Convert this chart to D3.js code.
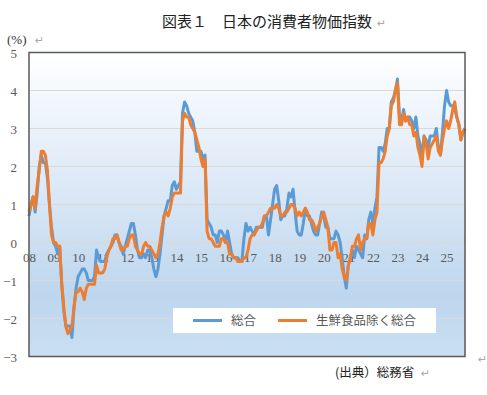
<!DOCTYPE html>
<html>
<head>
<meta charset="utf-8">
<script src="https://cdn.jsdelivr.net/npm/d3@7"></script>
<style>
  body { margin: 0; background: #fff; }
  svg { display: block; }
  .tick text { font-family: "Liberation Serif", "DejaVu Serif", serif; font-size: 13px; fill: #595959; }
</style>
</head>
<body>
<svg id="chart" width="487" height="395"></svg>
<script>
// x axis labels (one per year, Jan)
const yearLabels = ['08','09','10','11','12','13','14','15','16','17','18','19','20','21','22','23','24','25'];
const yTicks = [-3, -2, -1, 0, 1, 2, 3, 4, 5];

// 総合 (all items), y/y %, monthly from 2008-01
const headline = [
  0.7, 1.0, 1.2, 0.8, 1.3, 2.0, 2.3, 2.1, 2.1, 1.7, 1.0, 0.4,
  0.0, -0.1, -0.3, -0.1, -1.1, -1.8, -2.2, -2.2, -2.2, -2.5, -1.7, -1.2,
  -0.9, -0.8, -0.7, -0.7, -0.8, -1.0, -1.0, -1.0, -0.9, -0.2, -0.4, -0.5,
  -0.5, -0.5, -0.3, -0.2, -0.1, 0.0, 0.2, 0.2, 0.0, -0.1, -0.3, -0.1,
  0.1, 0.3, 0.5, 0.5, 0.2, -0.2, -0.4, -0.4, -0.3, -0.4, -0.2, -0.2,
  -0.4, -0.7, -0.9, -0.7, -0.3, 0.2, 0.7, 0.9, 1.1, 1.1, 1.5, 1.6,
  1.4, 1.5, 1.6, 3.4, 3.7, 3.6, 3.4, 3.3, 3.2, 2.9, 2.4, 2.4,
  2.4, 2.2, 2.3, 0.6, 0.5, 0.4, 0.2, 0.2, 0.0, 0.3, 0.3, 0.2,
  0.0, 0.3, 0.0, -0.3, -0.4, -0.4, -0.4, -0.5, -0.5, 0.1, 0.5, 0.3,
  0.4, 0.3, 0.2, 0.4, 0.4, 0.4, 0.4, 0.7, 0.7, 0.2, 0.6, 1.0,
  1.4, 1.5, 1.1, 0.6, 0.7, 0.7, 0.9, 1.3, 1.2, 1.4, 0.8, 0.3,
  0.2, 0.2, 0.5, 0.9, 0.7, 0.7, 0.5, 0.3, 0.2, 0.2, 0.5, 0.8,
  0.7, 0.4, 0.4, 0.1, 0.1, 0.1, 0.3, 0.2, 0.0, -0.4, -0.9, -1.2,
  -0.6, -0.4, -0.2, -0.4, -0.1, -0.2, -0.3, -0.4, 0.2, 0.1, 0.6, 0.8,
  0.5, 0.9, 1.2, 2.5, 2.5, 2.4, 2.6, 3.0, 3.0, 3.7, 3.8, 4.0,
  4.3, 3.3, 3.2, 3.5, 3.2, 3.3, 3.3, 3.2, 3.0, 3.3, 2.8, 2.6,
  2.2, 2.8, 2.7, 2.5, 2.8, 2.8, 2.8, 3.0, 2.5, 2.3, 2.9, 3.6,
  4.0, 3.7, 3.6, 3.6, 3.5, 3.3, 3.1, 2.7, 2.9, 3.0
];

// 生鮮食品除く総合 (core), y/y %, monthly from 2008-01
const core = [
  0.8, 1.0, 1.2, 0.9, 1.5, 1.9, 2.4, 2.4, 2.3, 1.9, 1.0, 0.2,
  0.0, 0.0, -0.1, -0.1, -1.1, -1.7, -2.2, -2.4, -2.3, -2.2, -1.7, -1.3,
  -1.3, -1.2, -1.3, -1.5, -1.2, -1.1, -1.1, -1.1, -1.1, -0.6, -0.8, -0.8,
  -0.8, -0.7, -0.4, -0.2, -0.1, 0.1, 0.1, 0.2, 0.0, -0.2, -0.2, -0.1,
  -0.1, 0.1, 0.2, 0.2, -0.1, -0.2, -0.3, -0.3, -0.1, 0.0, -0.1, -0.1,
  -0.2, -0.3, -0.4, -0.3, 0.0, 0.4, 0.7, 0.8, 0.7, 0.9, 1.2, 1.3,
  1.3, 1.3, 1.3, 3.2, 3.4, 3.3, 3.3, 3.1, 3.0, 2.9, 2.7, 2.5,
  2.2, 2.0, 2.2, 0.3, 0.1, 0.1, 0.0, -0.1, -0.1, -0.1, 0.1, 0.1,
  0.0, 0.0, -0.3, -0.3, -0.4, -0.4, -0.5, -0.5, -0.5, -0.4, -0.4, -0.2,
  0.1, 0.2, 0.2, 0.3, 0.4, 0.4, 0.5, 0.7, 0.7, 0.8, 0.9, 0.9,
  0.9, 1.0, 0.9, 0.7, 0.7, 0.8, 0.8, 0.9, 1.0, 1.0, 0.9, 0.7,
  0.8, 0.7, 0.8, 0.9, 0.8, 0.6, 0.6, 0.5, 0.3, 0.4, 0.5, 0.7,
  0.8, 0.6, 0.4, -0.2, -0.2, 0.0, 0.0, -0.4, -0.3, -0.7, -0.9, -1.0,
  -0.6, -0.4, -0.1, -0.1, 0.1, 0.2, -0.2, 0.0, 0.1, 0.1, 0.5, 0.5,
  0.2, 0.6, 0.8, 2.1, 2.1, 2.2, 2.4, 2.8, 3.0, 3.6, 3.7, 4.0,
  4.2, 3.1, 3.1, 3.4, 3.2, 3.3, 3.1, 3.1, 2.8, 2.9, 2.5, 2.3,
  2.0, 2.8, 2.6, 2.2, 2.5, 2.6, 2.7, 2.8, 2.4, 2.3, 2.7, 3.0,
  3.2, 3.0, 3.2, 3.5, 3.7, 3.3, 3.1, 2.7, 2.9, 3.0
];

const series = [
  { name: '総合', values: headline, color: '#5b9bd5' },
  { name: '生鮮食品除く総合', values: core, color: '#ed7d31' }
];

const svg = d3.select('#chart');
const plotLeft = 29, plotRight = 465, plotTop = 52.5, plotBottom = 356.5;

const x = d3.scaleLinear().domain([0, headline.length - 1]).range([plotLeft, plotRight]);
const y = d3.scaleLinear().domain([-3, 5]).range([plotBottom, plotTop]);

// background gradient
const grad = svg.append('defs').append('linearGradient')
  .attr('id', 'bg').attr('x1', 0).attr('y1', 0).attr('x2', 0).attr('y2', 1);
grad.append('stop').attr('offset', '0%').attr('stop-color', '#ffffff');
grad.append('stop').attr('offset', '45%').attr('stop-color', '#dbe8f6');
grad.append('stop').attr('offset', '80%').attr('stop-color', '#bdd6ee');
grad.append('stop').attr('offset', '100%').attr('stop-color', '#cadff2');

svg.append('rect')
  .attr('x', plotLeft).attr('y', plotTop)
  .attr('width', plotRight - plotLeft).attr('height', plotBottom - plotTop)
  .attr('fill', 'url(#bg)');

// horizontal grid
svg.append('g')
  .selectAll('line')
  .data(yTicks.filter(d => d > -3 && d < 5))
  .enter().append('line')
  .attr('x1', plotLeft).attr('x2', plotRight)
  .attr('y1', d => y(d)).attr('y2', d => y(d))
  .attr('stroke', '#d9d9d9').attr('stroke-width', 1);

// y axis labels
const yAxis = svg.append('g')
  .attr('transform', `translate(${plotLeft - 12},0)`)
  .call(d3.axisLeft(y).tickValues(yTicks).tickSize(0).tickFormat(d3.format('d')));
yAxis.select('.domain').remove();
yAxis.selectAll('text').attr('x', 0).attr('dy', '0.35em');

// x axis at zero
const xAxis = svg.append('g')
  .attr('transform', `translate(0,${y(0)})`)
  .call(d3.axisBottom(x)
    .tickValues(yearLabels.map((d, i) => i * 12))
    .tickFormat((d, i) => yearLabels[i])
    .tickSize(-4));
xAxis.select('.domain').attr('stroke', '#d9d9d9');
xAxis.selectAll('.tick line').attr('stroke', '#d9d9d9');
xAxis.selectAll('.tick text').attr('y', 10).attr('dy', '0.71em');

// lines
const line = d3.line()
  .x((d, i) => x(i))
  .y(d => y(d));

svg.append('g')
  .selectAll('path')
  .data(series)
  .enter().append('path')
  .attr('d', d => line(d.values))
  .attr('fill', 'none')
  .attr('stroke', d => d.color)
  .attr('stroke-width', 3)
  .attr('stroke-linejoin', 'round');

// frame
svg.append('rect')
  .attr('x', plotLeft).attr('y', plotTop)
  .attr('width', plotRight - plotLeft).attr('height', plotBottom - plotTop)
  .attr('fill', 'none').attr('stroke', '#595959').attr('stroke-width', 1.5);

// legend
const legend = svg.append('g');
legend.append('rect')
  .attr('x', 173).attr('y', 308).attr('width', 263).attr('height', 25)
  .attr('fill', '#fff');
const items = legend.selectAll('g.item')
  .data(series)
  .enter().append('g')
  .attr('transform', (d, i) => `translate(${i === 0 ? 193 : 278},320.5)`);
items.append('line')
  .attr('x1', 0).attr('x2', 29)
  .attr('stroke', d => d.color).attr('stroke-width', 3);
items.append('text')
  .attr('x', 38).attr('dy', '0.35em')
  .attr('font-family', '"Noto Sans CJK JP", sans-serif')
  .attr('font-size', 12.5).attr('fill', '#595959')
  .text(d => d.name);

// texts
const jp = '"Noto Sans CJK JP", sans-serif';
svg.append('text')
  .attr('x', 267).attr('y', 27).attr('text-anchor', 'middle')
  .attr('font-family', jp).attr('font-size', 15).attr('fill', '#222')
  .text('図表１　日本の消費者物価指数');
svg.append('text')
  .attr('x', 7).attr('y', 44)
  .attr('font-family', '"Liberation Serif", serif').attr('font-size', 13).attr('fill', '#333')
  .text('(%)');
svg.append('text')
  .attr('x', 335).attr('y', 377)
  .attr('font-family', jp).attr('font-size', 12.5).attr('fill', '#222')
  .text('(出典）総務省');

// paragraph marks
const marks = [[377, 27], [35, 44], [421, 377], [478, 363]];
svg.append('g')
  .selectAll('text')
  .data(marks)
  .enter().append('text')
  .attr('x', d => d[0]).attr('y', d => d[1])
  .attr('font-family', '"DejaVu Sans", sans-serif').attr('font-size', 11).attr('fill', '#aaa')
  .text('↵');
</script>
</body>
</html>
